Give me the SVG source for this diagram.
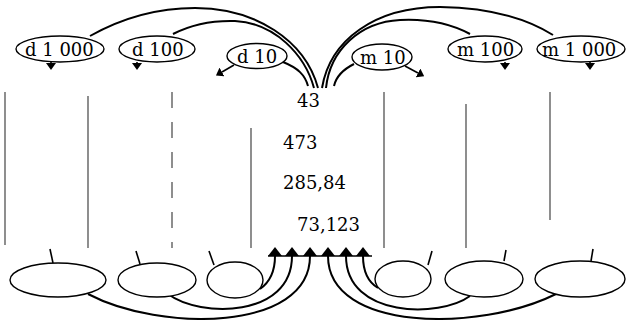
<svg xmlns="http://www.w3.org/2000/svg" width="626" height="320" viewBox="0 0 626 320">
<style>
  .ov { fill: #fff; stroke: #000; stroke-width: 1.4; }
  .lbl { font-family: "DejaVu Serif", "Liberation Serif", serif; font-size: 18px; fill: #000; }
  .num { font-family: "DejaVu Serif", "Liberation Serif", serif; font-size: 18px; fill: #000; }
  .arc { fill: none; stroke: #000; stroke-width: 2; }
  .sm { fill: none; stroke: #000; stroke-width: 1.6; }
  .col { stroke: #444; stroke-width: 1.2; }
  .tick { stroke: #000; stroke-width: 1.6; }
</style>
<defs>
  <marker id="up" viewBox="0 0 9 14" markerWidth="9" markerHeight="14" refX="0" refY="7" orient="auto" markerUnits="userSpaceOnUse">
    <path d="M0,0 L9,7 L0,14 z" fill="#000"/>
  </marker>
  <marker id="dn" viewBox="0 0 7 10" markerWidth="7" markerHeight="10" refX="0" refY="5" orient="auto" markerUnits="userSpaceOnUse">
    <path d="M0,0 L7,5 L0,10 z" fill="#000"/>
  </marker>
</defs>

<g id="columns">
  <line class="col" x1="5" y1="92" x2="5" y2="245"/>
  <line class="col" x1="88" y1="96" x2="88" y2="248"/>
  <line class="col" x1="172" y1="92" x2="172" y2="248" stroke-dasharray="16 14"/>
  <line class="col" x1="251" y1="128" x2="251" y2="248"/>
  <line class="col" x1="384" y1="92" x2="384" y2="248"/>
  <line class="col" x1="466" y1="104" x2="466" y2="248"/>
  <line class="col" x1="550" y1="92" x2="550" y2="220"/>
</g>

<g id="connectors">
  <!-- top arcs converging to centre -->
  <path class="arc" d="M90,36 Q140,8 195,8 C255,8 305,40 318,88"/>
  <path class="arc" d="M173,34 Q200,20 235,21 C275,23 305,55 314,88"/>
  <path class="arc" d="M283,62 C298,68 305,75 308,86"/>
  <path class="arc" d="M553,35 Q510,8 440,7 C375,7 330,40 322,88"/>
  <path class="arc" d="M470,34 Q440,18 400,20 C360,22 330,50 326,88"/>
  <path class="arc" d="M354,64 C342,70 336,77 334,86"/>
  <!-- small arrows under top ovals -->
  <line class="sm" x1="51" y1="62" x2="51" y2="63" marker-end="url(#dn)"/>
  <line class="sm" x1="137" y1="62" x2="137" y2="63" marker-end="url(#dn)"/>
  <line class="sm" x1="234" y1="65" x2="222" y2="72" marker-end="url(#dn)"/>
  <line class="sm" x1="405" y1="66" x2="418" y2="73" marker-end="url(#dn)"/>
  <line class="sm" x1="505" y1="62" x2="505" y2="63" marker-end="url(#dn)"/>
  <line class="sm" x1="590" y1="62" x2="590" y2="63" marker-end="url(#dn)"/>
  <!-- bottom arcs to the arrow row -->
  <line x1="268" y1="256" x2="372" y2="256" stroke="#000" stroke-width="1.5"/>
  <path class="arc" d="M260,289 C270,282 275,270 275,256" marker-end="url(#up)"/>
  <path class="arc" d="M168,294 C200,318 292,318 292,256" marker-end="url(#up)"/>
  <path class="arc" d="M88,294 C160,332 310,332 310,256" marker-end="url(#up)"/>
  <path class="arc" d="M378,288 C368,282 363,270 363,256" marker-end="url(#up)"/>
  <path class="arc" d="M470,296 C440,318 346,318 346,256" marker-end="url(#up)"/>
  <path class="arc" d="M556,294 C480,332 328,332 328,256" marker-end="url(#up)"/>
  <!-- ticks on bottom ovals -->
  <line class="tick" x1="53" y1="263" x2="50" y2="249"/>
  <line class="tick" x1="140" y1="264" x2="136" y2="251"/>
  <line class="tick" x1="214" y1="265" x2="209" y2="251"/>
  <line class="tick" x1="428" y1="265" x2="432" y2="251"/>
  <line class="tick" x1="504" y1="261" x2="506" y2="250"/>
  <line class="tick" x1="591" y1="261" x2="593" y2="249"/>
</g>

<g id="d1000"><ellipse class="ov" cx="60" cy="49" rx="44" ry="13"/><text class="lbl" x="25" y="56">d 1 000</text></g>
<g id="d100"><ellipse class="ov" cx="157" cy="49" rx="38" ry="13"/><text class="lbl" x="132" y="56">d 100</text></g>
<g id="d10"><ellipse class="ov" cx="257" cy="56" rx="30" ry="12.5"/><text class="lbl" x="237" y="63">d 10</text></g>
<g id="m10"><ellipse class="ov" cx="382" cy="57" rx="30" ry="13"/><text class="lbl" x="360" y="64">m 10</text></g>
<g id="m100"><ellipse class="ov" cx="485" cy="49" rx="37" ry="13"/><text class="lbl" x="457" y="56">m 100</text></g>
<g id="m1000"><ellipse class="ov" cx="581" cy="49" rx="44" ry="13"/><text class="lbl" x="542" y="56">m 1 000</text></g>

<g id="numbers">
  <text class="num" x="297" y="107">43</text>
  <text class="num" x="283" y="149">473</text>
  <text class="num" x="283" y="189">285,84</text>
  <text class="num" x="297" y="231">73,123</text>
</g>

<g id="o1"><ellipse class="ov" cx="58" cy="280" rx="48" ry="17"/></g>
<g id="o2"><ellipse class="ov" cx="157" cy="280" rx="39" ry="17"/></g>
<g id="o3"><ellipse class="ov" cx="235" cy="280" rx="28" ry="18"/></g>
<g id="o5"><ellipse class="ov" cx="403" cy="279" rx="28" ry="18"/></g>
<g id="o6"><ellipse class="ov" cx="484" cy="279" rx="39" ry="18"/></g>
<g id="o7"><ellipse class="ov" cx="580" cy="279" rx="45" ry="18"/></g>
</svg>
